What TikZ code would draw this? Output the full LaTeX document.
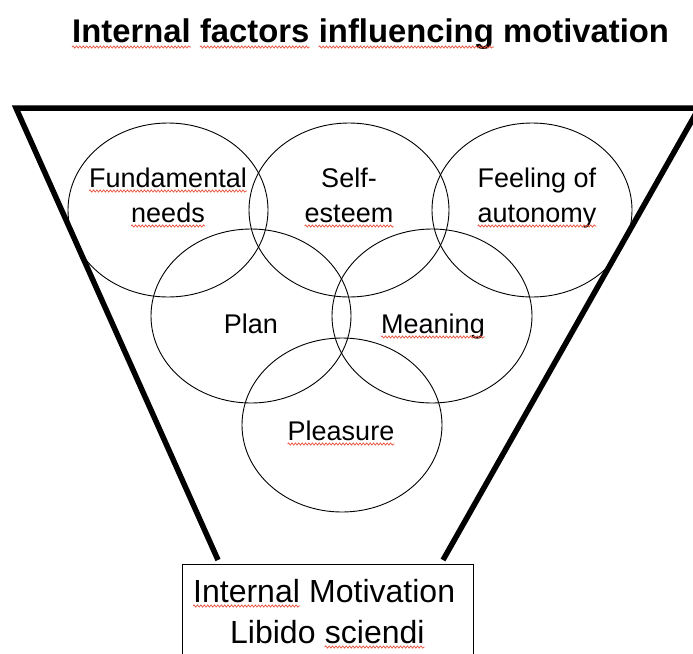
\documentclass[tikz,border=0pt]{standalone}
\usepackage{fontspec}
\setmainfont{Liberation Sans}
\usetikzlibrary{decorations.pathmorphing,shapes.geometric}
\definecolor{squigred}{HTML}{E8503A}
\begin{document}
\begin{tikzpicture}[x=1pt,y=-1pt,
  bubble/.style={draw, ellipse, line width=0.9pt, minimum width=200pt, minimum height=174pt, inner sep=0pt},
  btext/.style={font=\fontsize{27}{27}\selectfont, inner sep=0pt, anchor=base},
  boxtext/.style={font=\fontsize{32}{32}\selectfont, inner sep=0pt, anchor=base west},
  titletext/.style={font=\bfseries\fontsize{32.8}{32.8}\selectfont, inner sep=0pt, anchor=base west},
  squig/.style={draw=squigred, line width=0.7pt, decorate, decoration={snake, amplitude=1.1pt, segment length=3.4pt}},
  funnel/.style={line width=5.5pt, line join=miter}]
\useasboundingbox (0,0) rectangle (693,653);
\clip (0,0) rectangle (693,653);
\fill[white] (0,0) rectangle (693,653);

% title
\node[titletext] (t1) at (72,42) {Internal};
\node[titletext] (t2) at ([xshift=9pt]t1.base east) {factors};
\node[titletext] (t3) at ([xshift=9pt]t2.base east) {influencing};
\node[titletext] (t4) at ([xshift=9pt]t3.base east) {motivation};
\foreach \w in {t1,t2,t3}
  \draw[squig] ([yshift=-5pt]\w.base west) -- ([yshift=-5pt]\w.base east);

% funnel
\draw[funnel] (218,560) -- (16,108) -- (699,108) -- (443,560);

% bubbles
\node[bubble] (c1) at (168,210) {};
\node[bubble] (c2) at (349,210) {};
\node[bubble] (c3) at (532,210) {};
\node[bubble] (c4) at (251,316) {};
\node[bubble] (c5) at (432,316) {};
\node[bubble] (c6) at (342,425) {};

\node[btext] (l1a) at (168,187) {Fundamental};
\node[btext] (l1b) at (168,222) {needs};
\node[btext] (l2a) at (349,187) {Self-};
\node[btext] (l2b) at (349,222) {esteem};
\node[btext] (l3a) at (537,187) {Feeling of};
\node[btext] (l3b) at (537,222) {autonomy};
\node[btext] (l4) at (251,333) {Plan};
\node[btext] (l5) at (433,333) {Meaning};
\node[btext] (l6) at (341,440) {Pleasure};
\foreach \w in {l1a,l1b,l2b,l3b,l5,l6}
  \draw[squig] ([yshift=-4pt]\w.base west) -- ([yshift=-4pt]\w.base east);

% box
\node[draw, line width=1.3pt, minimum width=291pt, minimum height=120pt, anchor=north west, inner sep=0pt] (box) at (182,564) {};
\node[boxtext] (m1) at (193,602) {Internal};
\node[boxtext] (m2) at ([xshift=8.9pt]m1.base east) {Motivation};
\node[boxtext] (m3) at (230,643) {Libido};
\node[boxtext] (m4) at ([xshift=8.9pt]m3.base east) {sciendi};
\foreach \w in {m1,m4}
  \draw[squig] ([yshift=-4pt]\w.base west) -- ([yshift=-4pt]\w.base east);
\end{tikzpicture}
\end{document}
